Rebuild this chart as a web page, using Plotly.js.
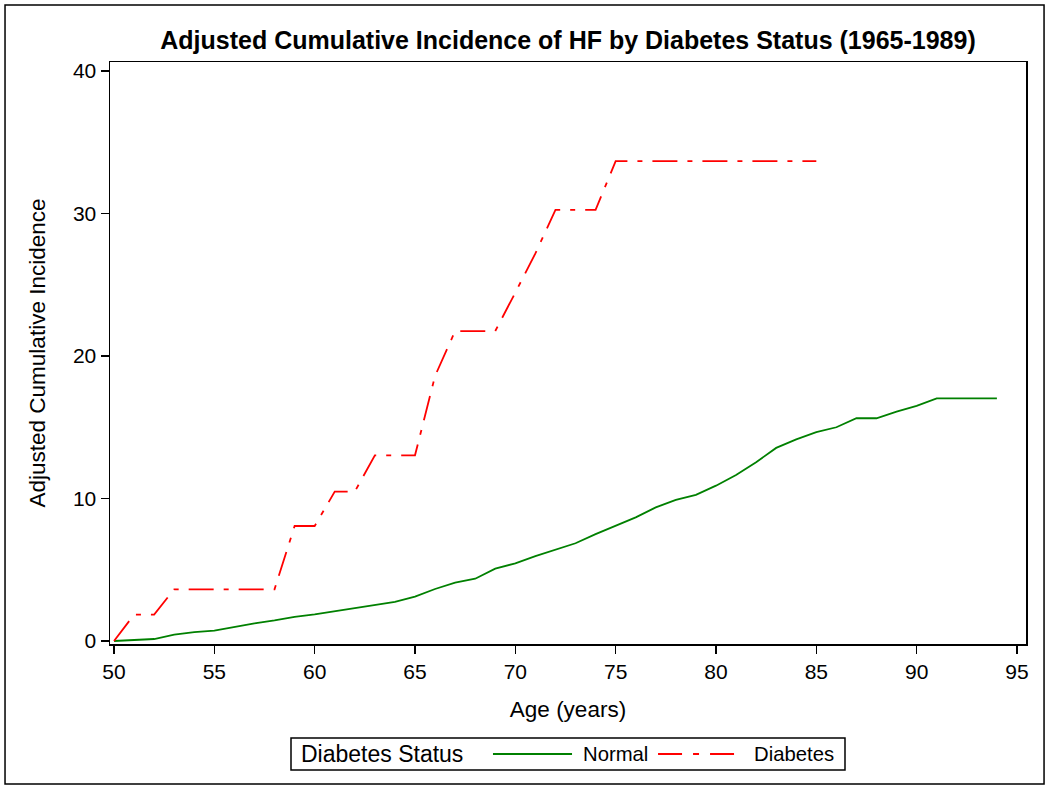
<!DOCTYPE html>
<html>
<head>
<meta charset="utf-8">
<script src="https://cdn.plot.ly/plotly-3.0.1.min.js"></script>
<style>
  html, body { margin: 0; padding: 0; background: #fff; }
  #chart { width: 1050px; height: 789px; }
</style>
</head>
<body>
<div id="chart"></div>
<script>
// Ages (years)
const normalAge = [50,51,52,53,54,55,56,57,58,59,60,61,62,63,64,65,66,67,68,69,70,71,72,73,74,75,76,77,78,79,80,81,82,83,84,85,86,87,88,89,90,91,92,93,94];
const normalInc = [0,0.07,0.14,0.45,0.63,0.73,1.0,1.24,1.45,1.7,1.87,2.08,2.27,2.48,2.74,3.11,3.65,4.1,4.37,5.08,5.45,5.96,6.39,6.86,7.5,8.07,8.68,9.38,9.9,10.25,10.9,11.65,12.55,13.55,14.15,14.65,15.0,15.63,15.63,16.1,16.5,17.03,17.03,17.03,17.03];

const diabetesAge = [50,51,52,53,54,55,56,57,58,59,60,61,62,63,64,65,66,67,68,69,70,71,72,73,74,75,76,77,78,79,80,81,82,83,84,85];
const diabetesInc = [0,1.85,1.85,3.63,3.63,3.63,3.63,3.63,3.63,8.07,8.07,10.48,10.48,13.03,13.03,13.03,18.6,21.75,21.75,21.75,24.45,27.2,30.25,30.25,30.25,33.68,33.68,33.68,33.68,33.68,33.68,33.68,33.68,33.68,33.68,33.68];

const seriesNames = ["Normal", "Diabetes"];
const seriesColors = ["#008000", "#ff0000"];
const legendTitle = "Diabetes Status";
const xTicks = [50,55,60,65,70,75,80,85,90,95];
const yTicks = [0,10,20,30,40];

const FONT = "Liberation Sans, Arial, Helvetica, sans-serif";
const DASH = "25px,10px,5px,10px";

const traces = [
  {
    x: normalAge, y: normalInc, name: seriesNames[0], type: "scatter", mode: "lines",
    line: { color: seriesColors[0], width: 1.8 }, showlegend: false
  },
  {
    x: diabetesAge, y: diabetesInc, name: seriesNames[1], type: "scatter", mode: "lines",
    line: { color: seriesColors[1], width: 1.8, dash: DASH }, showlegend: false
  }
];

// legend drawn as shapes + annotations (paper coordinates below the plot)
const LY = -0.189;
const legendShapes = [
  { type: "rect", xref: "paper", yref: "paper", x0: 0.1976, x1: 0.8024, y0: -0.2165, y1: -0.1615,
    line: { color: "#000", width: 1.5 }, fillcolor: "#fff" },
  { type: "line", xref: "paper", yref: "paper", x0: 0.4181, x1: 0.5044, y0: LY, y1: LY,
    line: { color: seriesColors[0], width: 1.8 } },
  { type: "line", xref: "paper", yref: "paper", x0: 0.5983, x1: 0.6900, y0: LY, y1: LY,
    line: { color: seriesColors[1], width: 1.8, dash: "24px,11px,6px,11px" } }
];
const legendAnn = [
  { text: legendTitle, x: 0.2060, size: 23 },
  { text: seriesNames[0], x: 0.5143, size: 20.3 },
  { text: seriesNames[1], x: 0.7009, size: 20.3 }
].map(a => ({
  text: a.text, x: a.x, y: LY, xref: "paper", yref: "paper",
  xanchor: "left", yanchor: "middle", showarrow: false,
  font: { family: FONT, size: a.size, color: "#000" }
}));

const layout = {
  width: 1050, height: 789,
  margin: { l: 110, r: 24, t: 62, b: 145 },
  paper_bgcolor: "#fff", plot_bgcolor: "#fff",
  font: { family: FONT, color: "#000", size: 21 },
  title: {
    text: "<b>Adjusted Cumulative Incidence of HF by Diabetes Status (1965-1989)</b>",
    font: { family: FONT, size: 25, color: "#000" },
    x: 0.5, xref: "paper", xanchor: "center",
    y: 1, yref: "paper", yanchor: "bottom", pad: { b: 13 }
  },
  xaxis: {
    range: [49.8, 95.45],
    tickvals: xTicks, ticktext: xTicks.map(String),
    ticks: "outside", ticklen: 8, tickwidth: 1.5, tickcolor: "#000",
    showline: true, linecolor: "#000", linewidth: 1.5, mirror: true,
    showgrid: false, zeroline: false,
    tickfont: { family: FONT, size: 21 },
    title: { text: "Age (years)", font: { family: FONT, size: 22.5 }, standoff: 19 }
  },
  yaxis: {
    range: [-0.21, 40.63],
    tickvals: yTicks, ticktext: yTicks.map(String),
    ticks: "outside", ticklen: 8, tickwidth: 1.5, tickcolor: "#000",
    showline: true, linecolor: "#000", linewidth: 1.5, mirror: true,
    showgrid: false, zeroline: false,
    tickfont: { family: FONT, size: 21 },
    title: { text: "Adjusted Cumulative Incidence", font: { family: FONT, size: 22.5 }, standoff: 21 }
  },
  showlegend: false,
  annotations: legendAnn,
  shapes: [
    {
      type: "rect", xref: "paper", yref: "paper",
      x0: -0.1146, x1: 1.0197, y0: -0.2405, y1: 1.098,
      line: { color: "#000", width: 1.5 }, fillcolor: "rgba(0,0,0,0)", layer: "below"
    }
  ].concat(legendShapes)
};

Plotly.newPlot("chart", traces, layout, { displayModeBar: false, staticPlot: true });
</script>
</body>
</html>
